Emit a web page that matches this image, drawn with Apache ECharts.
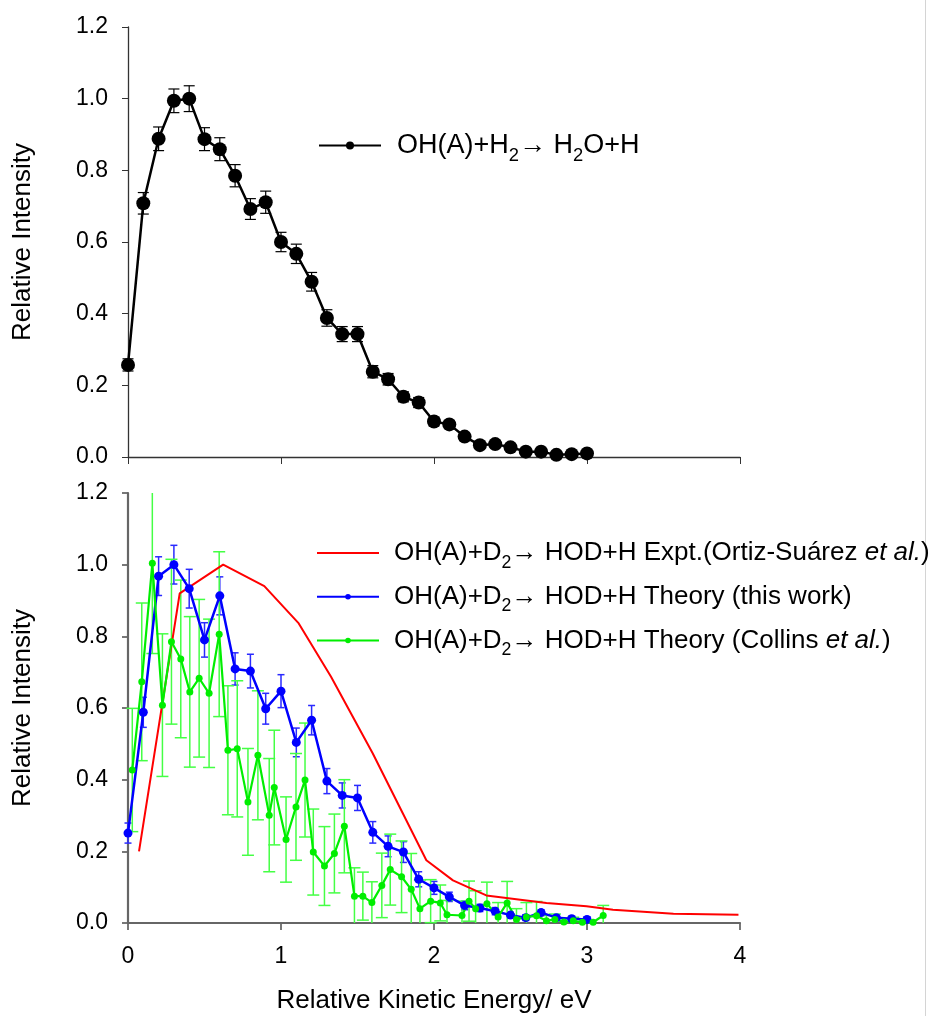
<!DOCTYPE html>
<html>
<head>
<meta charset="utf-8">
<script src="https://cdn.jsdelivr.net/npm/echarts@6/dist/echarts.min.js"></script>
<style>
  html, body { margin: 0; padding: 0; background: #fff; }
  #main { width: 942px; height: 1016px; }
</style>
</head>
<body>
<div id="main"></div>
<script>
// top panel: OH(A)+H2 -> H2O+H
const topEnergy = [0.0, 0.1, 0.2, 0.3, 0.4, 0.5, 0.6, 0.7, 0.8, 0.9, 1.0, 1.1, 1.2, 1.3, 1.4, 1.5,
  1.6, 1.7, 1.8, 1.9, 2.0, 2.1, 2.2, 2.3, 2.4, 2.5, 2.6, 2.7, 2.8, 2.9, 3.0]
const topValue = [0.257, 0.708, 0.888, 0.994, 1.0, 0.887, 0.859, 0.785, 0.692, 0.711, 0.600, 0.567,
  0.489, 0.388, 0.343, 0.343, 0.238, 0.217, 0.168, 0.152, 0.099, 0.091, 0.057, 0.033, 0.036, 0.027,
  0.015, 0.015, 0.006, 0.008, 0.010]
const topError = [0.017, 0.030, 0.033, 0.033, 0.036, 0.032, 0.032, 0.031, 0.029, 0.031, 0.027, 0.027,
  0.026, 0.023, 0.021, 0.021, 0.017, 0.016, 0.014, 0.014, 0.012, 0.010, 0.010, 0.008, 0.008, 0.007,
  0.006, 0.006, 0.005, 0.005, 0.005]

// bottom panel: OH(A)+D2 -> HOD+H
const exptEnergy = [0.072, 0.338, 0.622, 0.891, 1.116, 1.327, 1.60, 1.95, 2.124, 2.342, 2.735, 2.997,
  3.17, 3.565, 3.99]
const exptValue = [0.200, 0.920, 1.000, 0.940, 0.836, 0.687, 0.473, 0.175, 0.119, 0.077, 0.056, 0.047,
  0.037, 0.026, 0.023]

const thisEnergy = topEnergy
const thisValue = [0.251, 0.588, 0.968, 1.0, 0.933, 0.790, 0.913, 0.709, 0.703, 0.598, 0.647, 0.504,
  0.566, 0.396, 0.356, 0.349, 0.253, 0.214, 0.198, 0.122, 0.098, 0.073, 0.049, 0.042, 0.033, 0.022,
  0.015, 0.029, 0.015, 0.012, 0.010]
const thisError = [0.028, 0.042, 0.054, 0.054, 0.054, 0.048, 0.053, 0.045, 0.047, 0.043, 0.046, 0.040,
  0.041, 0.035, 0.035, 0.035, 0.030, 0.029, 0.029, 0.021, 0.018, 0.013, 0.012, 0.010, 0.010, 0.008,
  0.008, 0.008, 0.007, 0.007, 0.007]

const collinsEnergy = [0.028, 0.090, 0.159, 0.225, 0.284, 0.345, 0.404, 0.465, 0.530, 0.596, 0.653,
  0.714, 0.784, 0.849, 0.923, 0.956, 1.033, 1.098, 1.157, 1.211, 1.284, 1.349, 1.414, 1.480, 1.535,
  1.594, 1.659, 1.714, 1.788, 1.851, 1.908, 1.978, 2.041, 2.085, 2.183, 2.229, 2.272, 2.346, 2.419,
  2.478, 2.539, 2.604, 2.670, 2.735, 2.790, 2.849, 2.910, 2.970, 3.040, 3.106]
const collinsValue = [0.427, 0.673, 1.004, 0.608, 0.785, 0.737, 0.645, 0.683, 0.641, 0.806, 0.482,
  0.486, 0.338, 0.468, 0.301, 0.378, 0.233, 0.324, 0.399, 0.198, 0.159, 0.194, 0.270, 0.075, 0.075,
  0.057, 0.105, 0.149, 0.129, 0.094, 0.040, 0.061, 0.056, 0.023, 0.021, 0.061, 0.040, 0.054, 0.017,
  0.056, 0.010, 0.017, 0.020, 0.006, 0.010, 0.003, 0.006, 0.002, 0.002, 0.021]
const collinsError = [0.172, 0.22, 0.252, 0.199, 0.23, 0.22, 0.21, 0.22, 0.207, 0.23, 0.18, 0.19,
  0.149, 0.18, 0.158, 0.16, 0.119, 0.149, 0.159, 0.12, 0.11, 0.11, 0.13, 0.079, 0.067, 0.058, 0.09,
  0.099, 0.10, 0.10, 0.08, 0.06, 0.05, 0.04, 0.04, 0.056, 0.05, 0.06, 0.04, 0.06, 0.03, 0.04, 0.04,
  0.015, 0.015, 0.01, 0.01, 0, 0, 0.028]

const xTicks = [0, 1, 2, 3, 4]
const yTicks = [0.0, 0.2, 0.4, 0.6, 0.8, 1.0, 1.2]

const FONT = '"Liberation Sans", Arial, sans-serif'
const Y_MAX = yTicks[yTicks.length - 1]

const legendText = {
  top: 'OH(A)+H{sub|2}→ H{sub|2}O+H',
  expt: 'OH(A)+D{sub|2}→ HOD+H Expt.(Ortiz-Suárez {it|et al.})',
  mine: 'OH(A)+D{sub|2}→ HOD+H Theory (this work)',
  collins: 'OH(A)+D{sub|2}→ HOD+H Theory (Collins {it|et al.})'
}

const pairs = (xs, ys) => xs.map((x, i) => [x, ys[i]])

// error bars drawn as a custom series
function errorBars (xs, ys, errs, color, capWidth, lineWidth, gridIndex) {
  return {
    type: 'custom',
    xAxisIndex: gridIndex,
    yAxisIndex: gridIndex,
    silent: true,
    encode: { x: 0, y: [1, 2] },
    data: xs.map((x, i) => [x, ys[i] - errs[i], ys[i] + errs[i]]),
    renderItem: function (params, api) {
      const x = api.value(0)
      const lo = api.value(1)
      const hi = api.value(2)
      if (hi - lo < 1e-6) return
      const pTop = api.coord([x, Math.min(hi, Y_MAX)])
      const pBot = api.coord([x, Math.max(lo, 0)])
      const half = capWidth / 2
      const children = [{
        type: 'line',
        shape: { x1: pTop[0], y1: pTop[1], x2: pBot[0], y2: pBot[1] },
        style: { stroke: color, lineWidth: lineWidth }
      }]
      if (hi <= Y_MAX) {
        children.push({
          type: 'line',
          shape: { x1: pTop[0] - half, y1: pTop[1], x2: pTop[0] + half, y2: pTop[1] },
          style: { stroke: color, lineWidth: lineWidth }
        })
      }
      if (lo >= 0) {
        children.push({
          type: 'line',
          shape: { x1: pBot[0] - half, y1: pBot[1], x2: pBot[0] + half, y2: pBot[1] },
          style: { stroke: color, lineWidth: lineWidth }
        })
      }
      return { type: 'group', children: children }
    }
  }
}

function richStyle (size) {
  return {
    sub: { fontFamily: FONT, fontSize: size * 0.68, color: '#000', padding: [size * 0.75, 0, 0, 0] },
    it: { fontFamily: FONT, fontSize: size, color: '#000', fontStyle: 'italic' }
  }
}

function xAxis (gridIndex, showLabels, axisColor, axisWidth) {
  return {
    type: 'value',
    gridIndex: gridIndex,
    min: xTicks[0],
    max: xTicks[xTicks.length - 1],
    interval: 1,
    name: showLabels ? 'Relative Kinetic Energy/ eV' : '',
    nameLocation: 'middle',
    nameGap: 65,
    nameTextStyle: { fontFamily: FONT, fontSize: 26, color: '#000' },
    axisLine: { lineStyle: { color: axisColor, width: axisWidth } },
    axisTick: { inside: false, length: 7, lineStyle: { color: axisColor, width: axisWidth * 0.8 } },
    axisLabel: { show: showLabels, margin: 22, fontFamily: FONT, fontSize: 23, color: '#000' },
    splitLine: { show: false }
  }
}

function yAxis (gridIndex, axisColor, axisWidth) {
  return {
    type: 'value',
    gridIndex: gridIndex,
    min: yTicks[0],
    max: Y_MAX,
    interval: 0.2,
    name: 'Relative Intensity',
    nameLocation: 'middle',
    nameGap: 92,
    nameTextStyle: { fontFamily: FONT, fontSize: 26, color: '#000' },
    axisLine: { show: true, lineStyle: { color: axisColor, width: axisWidth } },
    axisTick: { show: true, inside: false, length: 6, lineStyle: { color: axisColor, width: axisWidth * 0.8 } },
    axisLabel: {
      margin: 20,
      fontFamily: FONT,
      fontSize: 23,
      color: '#000',
      formatter: v => v.toFixed(1)
    },
    splitLine: { show: false }
  }
}

const chart = echarts.init(document.getElementById('main'), null, { renderer: 'canvas' })

const option = {
  animation: false,
  backgroundColor: '#fff',
  grid: [
    { left: 128, right: 202, top: 27, height: 430 },
    { left: 128, right: 202, top: 493, height: 430 }
  ],
  xAxis: [xAxis(0, false, '#333', 1.3), xAxis(1, true, '#666', 2.2)],
  yAxis: [yAxis(0, '#333', 1.3), yAxis(1, '#666', 2.2)],
  legend: [
    {
      left: 318,
      top: 132,
      padding: 0,
      data: ['top'],
      itemWidth: 62,
      itemHeight: 10,
      formatter: name => legendText[name],
      textStyle: { fontFamily: FONT, fontSize: 27, color: '#000', padding: [0, 0, 0, 11], rich: richStyle(27) }
    },
    {
      left: 316,
      top: 540,
      padding: 0,
      orient: 'vertical',
      itemGap: 12,
      data: ['expt', 'mine', 'collins'],
      itemWidth: 62,
      itemHeight: 7,
      formatter: name => legendText[name],
      textStyle: { fontFamily: FONT, fontSize: 26, color: '#000', padding: [0, 0, 0, 10], rich: richStyle(26) }
    }
  ],
  graphic: [{
    type: 'line',
    shape: { x1: 925.5, y1: 0, x2: 925.5, y2: 1016 },
    style: { stroke: '#d4d4d4', lineWidth: 1 },
    silent: true
  }],
  series: [
    errorBars(topEnergy, topValue, topError, '#000', 11, 1.2, 0),
    {
      name: 'top',
      type: 'line',
      xAxisIndex: 0,
      yAxisIndex: 0,
      data: pairs(topEnergy, topValue),
      symbol: 'circle',
      symbolSize: 14,
      color: '#000',
      lineStyle: { color: '#000', width: 2.5 },
      itemStyle: { color: '#000' }
    },
    {
      name: 'expt',
      type: 'line',
      xAxisIndex: 1,
      yAxisIndex: 1,
      data: pairs(exptEnergy, exptValue),
      showSymbol: false,
      color: '#ff0000',
      lineStyle: { color: '#ff0000', width: 2 },
      // keeps the legend icon a plain line
      itemStyle: { color: '#ff0000', opacity: 0 }
    },
    errorBars(thisEnergy, thisValue, thisError, '#2a2aff', 7, 1.5, 1),
    {
      name: 'mine',
      type: 'line',
      xAxisIndex: 1,
      yAxisIndex: 1,
      data: pairs(thisEnergy, thisValue),
      symbol: 'circle',
      symbolSize: 9,
      color: '#0000ff',
      lineStyle: { color: '#0000ff', width: 2.5 },
      itemStyle: { color: '#0000ff' }
    },
    errorBars(collinsEnergy, collinsValue, collinsError, '#44ff44', 12, 1.5, 1),
    {
      name: 'collins',
      type: 'line',
      xAxisIndex: 1,
      yAxisIndex: 1,
      data: pairs(collinsEnergy, collinsValue),
      symbol: 'circle',
      symbolSize: 7,
      color: '#00ee00',
      lineStyle: { color: '#00ee00', width: 2.2 },
      itemStyle: { color: '#00ee00' }
    }
  ]
}

chart.setOption(option)
</script>
</body>
</html>
